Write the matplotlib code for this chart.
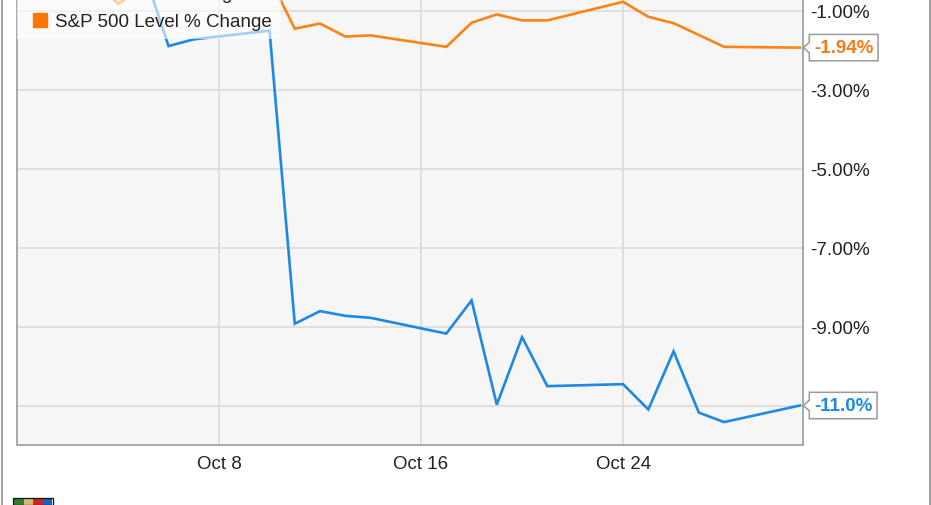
import matplotlib
matplotlib.use("Agg")
import matplotlib.pyplot as plt
from matplotlib.path import Path
from matplotlib.lines import Line2D
from matplotlib.patches import Rectangle
import pandas as pd

plt.rcParams['font.family'] = ['Liberation Sans', 'DejaVu Sans']

# ---- data ----
blue_label = "Stock Price % Change"
blue_dates = ["2018-09-30", "2018-10-05", "2018-10-06", "2018-10-07", "2018-10-10",
              "2018-10-11", "2018-10-12", "2018-10-13", "2018-10-14", "2018-10-17",
              "2018-10-18", "2018-10-19", "2018-10-20", "2018-10-21", "2018-10-24",
              "2018-10-25", "2018-10-26", "2018-10-27", "2018-10-28", "2018-10-31"]
blue_vals = [0.0, 0.03, -1.90, -1.73, -1.51,
             -8.93, -8.61, -8.73, -8.78, -9.18,
             -8.34, -10.98, -9.27, -10.51, -10.46,
             -11.10, -9.63, -11.18, -11.42, -11.0]

orange_label = "S&P 500 Level % Change"
orange_dates = ["2018-09-30", "2018-10-03", "2018-10-04", "2018-10-05", "2018-10-10",
                "2018-10-11", "2018-10-12", "2018-10-13", "2018-10-14", "2018-10-17",
                "2018-10-18", "2018-10-19", "2018-10-20", "2018-10-21", "2018-10-24",
                "2018-10-25", "2018-10-26", "2018-10-28", "2018-10-31"]
orange_vals = [0.0, -0.20, -0.83, -0.40, -0.18,
               -1.46, -1.33, -1.66, -1.63, -1.92,
               -1.31, -1.10, -1.25, -1.25, -0.78,
               -1.16, -1.32, -1.92, -1.94]

y_ticks = [-11, -9, -7, -5, -3, -1]
y_ticklabels = ["", "-9.00%", "-7.00%", "-5.00%", "-3.00%", "-1.00%"]
x_ticks = ["2018-10-08", "2018-10-16", "2018-10-24"]
x_ticklabels = ["Oct 8", "Oct 16", "Oct 24"]
blue_end_label = "-11.0%"
orange_end_label = "-1.94%"

BLUE = "#1e88e5"
ORANGE = "#ff8216"

# ---- layout ----
W, H = 931, 506
fig = plt.figure(figsize=(W / 100, H / 100), dpi=100)
fig.patch.set_facecolor("white")

ymin, ymax = -12.0, 0.5
px_per_unit = 39.5
ax_left, ax_right, ax_bottom = 17, 803, 446
ax_h = (ymax - ymin) * px_per_unit
ax = fig.add_axes([ax_left / W, (H - ax_bottom) / H, (ax_right - ax_left) / W, ax_h / H])
ax.set_facecolor("#f6f6f6")

bd = pd.to_datetime(blue_dates)
od = pd.to_datetime(orange_dates)

ax.plot(bd, blue_vals, color=BLUE, lw=1.9, zorder=3, solid_joinstyle="miter")
ax.plot(od, orange_vals, color=ORANGE, lw=1.9, zorder=3, solid_joinstyle="miter")

ax.set_yticks(y_ticks)
ax.set_yticklabels(y_ticklabels)
ax.yaxis.tick_right()
ax.set_xticks(pd.to_datetime(x_ticks))
ax.set_xticklabels(x_ticklabels)
ax.set_ylim(ymin, ymax)
ax.set_xlim(pd.Timestamp("2018-09-30"), pd.Timestamp("2018-10-31") + pd.Timedelta(hours=3))
ax.tick_params(axis="both", length=0, labelsize=13.5, labelcolor="#222222")
ax.tick_params(axis="y", pad=5)
ax.tick_params(axis="x", pad=7)
ax.grid(True, color="#d9d9d9", lw=1.1, zorder=0)
ax.axhline(1, color="#d9d9d9", lw=1.1, zorder=0)
ax.set_axisbelow(True)
for side in ["left", "bottom", "right", "top"]:
    ax.spines[side].set_color("#a3a3a3")
    ax.spines[side].set_linewidth(1.3)

# legend (partly cut off at the top, like the reference)
handles = [Line2D([], [], ls="none", marker="s", markersize=9.4, color=BLUE, mec=BLUE),
           Line2D([], [], ls="none", marker="s", markersize=9.4, color="#ff7700", mec="#ff7700")]
leg = ax.legend(handles, [blue_label, orange_label], loc="lower left",
                bbox_to_anchor=(0, -1.714), bbox_transform=ax.get_yaxis_transform(),
                borderaxespad=0, fontsize=13.5, frameon=True, framealpha=0.6,
                facecolor="white", edgecolor="none", fancybox=False,
                handlelength=1.5, handletextpad=0.1, borderpad=0.45, labelspacing=0.62)
leg.set_zorder(5)
for t in leg.get_texts():
    t.set_color("#222222")


# callout labels with a notch pointing at the line end
def notch_box(x0, y0, width, height, mutation_size):
    pad = 0.25 * mutation_size
    x0 -= pad
    y0 -= pad
    width += 2 * pad
    height += 2 * pad
    n = 0.28 * mutation_size
    cy = y0 + height / 2
    verts = [(x0, y0), (x0 + width, y0), (x0 + width, y0 + height), (x0, y0 + height),
             (x0, cy + n), (x0 - 1.15 * n, cy), (x0, cy - n), (x0, y0)]
    codes = [Path.MOVETO] + [Path.LINETO] * 6 + [Path.CLOSEPOLY]
    return Path(verts, codes)


for val, txt, col in [(orange_vals[-1], orange_end_label, "#f57c1a"),
                      (blue_vals[-1], blue_end_label, BLUE)]:
    ax.annotate(txt, xy=(1, val), xycoords=ax.get_yaxis_transform(),
                xytext=(11, 0), textcoords="offset pixels", ha="left", va="center",
                fontsize=13.5, fontweight="bold", color=col, annotation_clip=False,
                bbox=dict(boxstyle=notch_box, fc="white", ec="#9a9a9a", lw=1.1),
                zorder=6)

# outer frame lines
fig.add_artist(Line2D([1.5 / W, 1.5 / W], [0, 1], transform=fig.transFigure, color="#a0a0a0", lw=1.4))
fig.add_artist(Line2D([929.5 / W, 929.5 / W], [0, 1], transform=fig.transFigure, color="#a0a0a0", lw=1.4))

# tiny logo fragment at the bottom-left
logo_cols = ["#2e7d32", "#d9b77a", "#c62828", "#1565c0"]
for i, c in enumerate(logo_cols):
    fig.add_artist(Rectangle(((14 + i * 9.5) / W, 0), 9.5 / W, 6 / H, transform=fig.transFigure,
                             fc=c, ec="none"))
fig.add_artist(Rectangle((13 / W, 0), 40 / W, 7 / H, transform=fig.transFigure,
                         fc="none", ec="#111111", lw=0.9))

fig.savefig("out.png", dpi=100)
